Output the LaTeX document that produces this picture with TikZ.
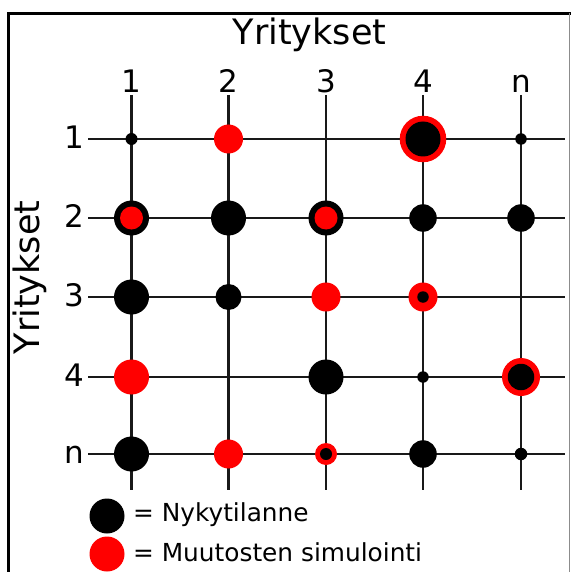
\documentclass[tikz,border=0pt]{standalone}
\usepackage{fontspec}
\setmainfont{DejaVu Sans}
\usepackage{tikz}

\begin{document}
\begin{tikzpicture}[x=1pt, y=-1pt,
                grid line/.style={line width=2.2pt, black!90},
                label node/.style={inner sep=0pt, anchor=base, font=\fontsize{31}{31}\selectfont},
                nyky/.style={circle, fill=black, inner sep=0pt, minimum size=#1},
                muutos/.style={circle, fill=red, inner sep=0pt, minimum size=#1}]

            \useasboundingbox (0,0) rectangle (571,572);

            % Frame
            \draw[line width=3pt] (8.5,572) -- (8.5,13.5) -- (571,13.5);
            \draw[line width=0.8pt, black!45] (569.5,13.5) -- (569.5,572);

            % Titles
            \node[inner sep=0pt, anchor=base, font=\fontsize{35}{35}\selectfont] (title) at (309.5,45) {Yritykset};
            \node[inner sep=0pt, anchor=base, rotate=90, font=\fontsize{35}{35}\selectfont] (side) at (39.5,277.5) {Yritykset};

            % Labels and end points
            \foreach \name/\x in {1/131.5, 2/228.5, 3/326, 4/423, n/521} {
                \coordinate (top-\name) at (\x,95);
                \coordinate (bot-\name) at (\x,490);
                \node[label node] (col-\name) at (\x,93) {\name};
            }
            \foreach \name/\y in {1/139, 2/218, 3/297, 4/377, n/454} {
                \coordinate (left-\name) at (88,\y);
                \coordinate (right-\name) at (565,\y);
                \node[label node] (row-\name) at (74.5,\y+9.5) {\name};
            }

            % Grid
            \foreach \name in {1,2,3,4,n} {
                \draw[grid line] (top-\name) -- (bot-\name);
                \draw[grid line] (left-\name) -- (right-\name);
            }

            % Row 1
            \node[nyky=12] (a11) at (top-1 |- left-1) {};
            \node[muutos=29] (a12) at (top-2 |- left-1) {};
            \node[muutos=46.5] (a14r) at (top-4 |- left-1) {};
            \node[nyky=35] (a14) at (top-4 |- left-1) {};
            \node[nyky=11.5] (a1n) at (top-n |- left-1) {};

            % Row 2
            \node[nyky=35] (a21) at (top-1 |- left-2) {};
            \node[muutos=23] (a21r) at (top-1 |- left-2) {};
            \node[nyky=35] (a22) at (top-2 |- left-2) {};
            \node[nyky=35] (a23) at (top-3 |- left-2) {};
            \node[muutos=23] (a23r) at (top-3 |- left-2) {};
            \node[nyky=27.5] (a24) at (top-4 |- left-2) {};
            \node[nyky=27.5] (a2n) at (top-n |- left-2) {};

            % Row 3
            \node[nyky=35] (a31) at (top-1 |- left-3) {};
            \node[nyky=26] (a32) at (top-2 |- left-3) {};
            \node[muutos=29] (a33) at (top-3 |- left-3) {};
            \node[muutos=29] (a34r) at (top-4 |- left-3) {};
            \node[nyky=11.5] (a34) at (top-4 |- left-3) {};

            % Row 4
            \node[muutos=35] (a41) at (top-1 |- left-4) {};
            \node[nyky=35] (a43) at (top-3 |- left-4) {};
            \node[nyky=11.5] (a44) at (top-4 |- left-4) {};
            \node[muutos=38] (a4nr) at (top-n |- left-4) {};
            \node[nyky=26.5] (a4n) at (top-n |- left-4) {};

            % Row n
            \node[nyky=35] (an1) at (top-1 |- left-n) {};
            \node[muutos=29] (an2) at (top-2 |- left-n) {};
            \node[muutos=22] (an3r) at (top-3 |- left-n) {};
            \node[nyky=12] (an3) at (top-3 |- left-n) {};
            \node[nyky=27.5] (an4) at (top-4 |- left-n) {};
            \node[nyky=12.5] (ann) at (top-n |- left-n) {};

            % Legend
            \node[nyky=35] (key-nyky) at (107,516) {};
            \node[muutos=35] (key-muutos) at (107,554) {};
            \node[inner sep=0pt, anchor=base west, font=\fontsize{24.8}{24.8}\selectfont] (text-nyky) at (133,521.7) {= Nykytilanne};
            \node[inner sep=0pt, anchor=base west, font=\fontsize{24.8}{24.8}\selectfont] (text-muutos) at (133,561.7) {= Muutosten simulointi};

        \end{tikzpicture}
\end{document}
